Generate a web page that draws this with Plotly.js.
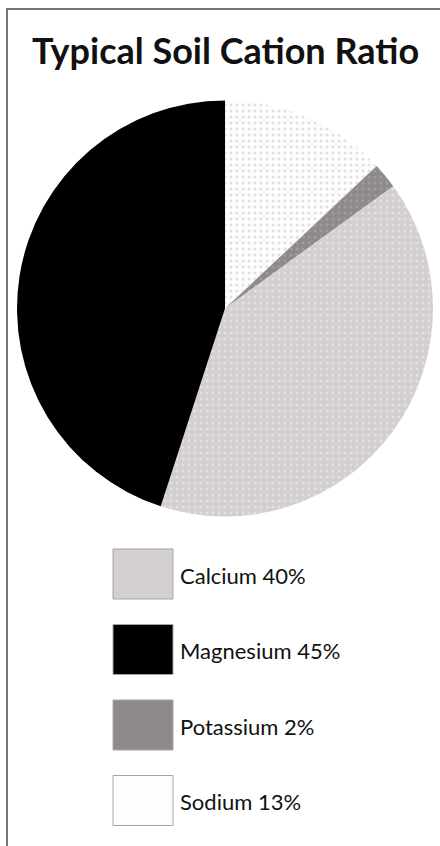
<!DOCTYPE html>
<html>
<head>
<meta charset="utf-8">
<script src="https://cdn.plot.ly/plotly-3.0.1.min.js"></script>
<style>html,body{margin:0;padding:0;background:#fff;}#chart{width:440px;height:846px;}</style>
</head>
<body>
<div id="chart"></div>
<script>
// Pie slices, clockwise from 12 o'clock
const sliceLabels = ['Sodium', 'Potassium', 'Calcium', 'Magnesium'];
const sliceValues = [13, 2, 40, 45];
// Legend order and texts
const legendLabels = ['Calcium', 'Magnesium', 'Potassium', 'Sodium'];
const legendValues = [40, 45, 2, 13];
const chartTitle = 'Typical Soil Cation Ratio';

const colorMap = {Calcium: '#d3cfcf', Magnesium: '#000000', Potassium: '#8e8a8a', Sodium: '#fdfdfd'};
const dotMap = {Calcium: '#e4e0e2', Magnesium: '#000000', Potassium: '#a09c9c', Sodium: '#e0e0e0'};

const W = 440, H = 846;
const cx = 225, cy = 308.5, R = 208;

const trace = {
  type: 'pie',
  labels: sliceLabels,
  values: sliceValues,
  sort: false,
  direction: 'clockwise',
  rotation: 0,
  textinfo: 'none',
  hoverinfo: 'label+percent',
  showlegend: false,
  marker: {
    colors: sliceLabels.map(l => colorMap[l]),
    line: {width: 0},
    pattern: {
      shape: '.',
      fgcolor: sliceLabels.map(l => dotMap[l]),
      bgcolor: sliceLabels.map(l => colorMap[l]),
      size: 6,
      solidity: 0.2
    }
  },
  domain: {
    x: [(cx - R) / W, (cx + R) / W],
    y: [(H - cy - R) / H, (H - cy + R) / H]
  }
};

const shapes = [];
const annotations = [];
// frame
shapes.push({type: 'rect', xref: 'paper', yref: 'paper',
  x0: 7 / W, x1: 460 / W, y0: 1 - 9 / H, y1: -20 / H,
  line: {color: '#4a4a4a', width: 1.5}, fillcolor: 'rgba(0,0,0,0)', layer: 'above'});

const boxX0 = 113, boxX1 = 173, boxTop0 = 549, boxH = 50, rowStep = 75.5;
legendLabels.forEach((lab, i) => {
  const top = boxTop0 + i * rowStep;
  shapes.push({type: 'rect', xref: 'paper', yref: 'paper',
    x0: boxX0 / W, x1: boxX1 / W, y0: 1 - top / H, y1: 1 - (top + boxH) / H,
    fillcolor: colorMap[lab], line: {color: '#a8a4a4', width: 1}});
  annotations.push({xref: 'paper', yref: 'paper', x: 178 / W, y: 1 - (top + boxH / 2 + 1) / H,
    xanchor: 'left', yanchor: 'middle', showarrow: false,
    text: lab + ' ' + legendValues[i] + '%',
    font: {family: 'Lato, sans-serif', size: 22, color: '#111'}});
});

annotations.push({xref: 'paper', yref: 'paper', x: 225 / W, y: 1 - 50 / H,
  xanchor: 'center', yanchor: 'middle', showarrow: false,
  text: '<b>' + chartTitle + '</b>',
  font: {family: 'Lato, sans-serif', size: 36, color: '#111'}});

const layout = {
  width: W, height: H,
  margin: {l: 0, r: 0, t: 0, b: 0},
  paper_bgcolor: '#fff',
  showlegend: false,
  shapes: shapes,
  annotations: annotations
};

Plotly.newPlot('chart', [trace], layout, {displayModeBar: false, staticPlot: true});
</script>
</body>
</html>
